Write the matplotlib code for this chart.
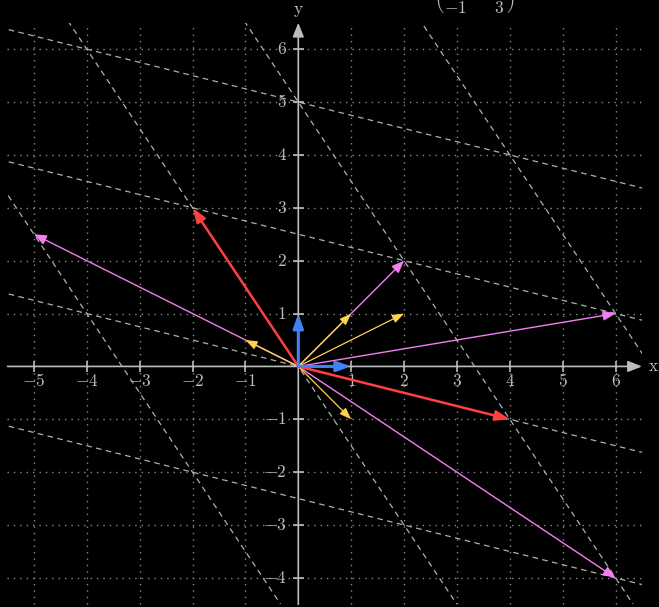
import numpy as np
import matplotlib.pyplot as plt
from matplotlib.patches import Rectangle

plt.rcParams['mathtext.fontset'] = 'cm'

# transformation matrix, its columns are the images of i and j
M = [[4, -2], [-1, 3]]
basis = [(1, 0), (0, 1)]
basis_images = [(4, -1), (-2, 3)]
vectors = [(1, 1), (2, 1), (1, -1), (-1, 0.5)]
vector_images = [(2, 2), (6, 1), (6, -4), (-5, 2.5)]
grid_k = [-1, 0, 1, 2]

x_ticks = [-5, -4, -3, -2, -1, 1, 2, 3, 4, 5, 6]
y_ticks = [-4, -3, -2, -1, 1, 2, 3, 4, 5, 6]
x_range = (-5.5, 6.5)
y_range = (-4.5, 6.5)

fig = plt.figure(figsize=(6.59, 6.07), dpi=100, facecolor='black')
ax = fig.add_axes([0, 0, 1, 1], facecolor='black')
ax.set_xlim(-5.64, 6.82)
ax.set_ylim(-4.55, 6.93)
ax.set_aspect('equal')
ax.axis('off')

# dotted background grid
gridkw = dict(color='#8a8a8a', lw=1.0, ls=(0, (1, 3.6)), zorder=1)
ax.vlines(x_ticks, *y_range, **gridkw)
ax.hlines(y_ticks, *x_range, **gridkw)

# transformed grid lines (dashed), clipped to the grid box
clip = Rectangle((x_range[0], y_range[0]), x_range[1] - x_range[0],
                 y_range[1] - y_range[0], transform=ax.transData)
ti = np.array(basis_images[0], float)
tj = np.array(basis_images[1], float)
t = np.array([-30.0, 30.0])
for k in grid_k:
    for base, d in ((k * tj, ti), (k * ti, tj)):
        pts = base[:, None] + d[:, None] * t
        ln, = ax.plot(pts[0], pts[1], color='#b0b0b0', lw=0.9,
                      ls=(0, (4.5, 3.5)), zorder=2)
        ln.set_clip_path(clip)

# axes with arrow heads
axis_col = '#bdbdbd'
axkw = dict(arrowstyle='-|>,head_length=0.85,head_width=0.34', color=axis_col,
            lw=1.2, shrinkA=0, shrinkB=0, mutation_scale=10)
ax.annotate('', xy=(x_range[1], 0), xytext=(x_range[0], 0), arrowprops=axkw, zorder=3)
ax.annotate('', xy=(0, y_range[1]), xytext=(0, y_range[0]), arrowprops=axkw, zorder=3)
ax.vlines(x_ticks, -0.1, 0.1, color=axis_col, lw=1.2, zorder=3)
ax.hlines(y_ticks, -0.1, 0.1, color=axis_col, lw=1.2, zorder=3)

for x in x_ticks:
    ax.text(x, -0.28, f'${x}$', color=axis_col, fontsize=12.5,
            ha='center', va='center')
for y in y_ticks:
    ax.text(-0.22, y, f'${y}$', color=axis_col, fontsize=12.5,
            ha='right', va='center')
ax.text(6.72, 0, r'$\mathrm{x}$', color=axis_col, fontsize=12.5, ha='center', va='center')
ax.text(0, 6.74, r'$\mathrm{y}$', color=axis_col, fontsize=12.5, ha='center', va='center')

# matrix, only the bottom row is inside the frame
fig.text(474 / 659, 1.0,
         r'$\genfrac{(}{)}{0}{0}{%d\quad\;\; %d}{%d\quad\;\;\; %d}$'
         % (M[0][0], M[0][1], M[1][0], M[1][1]),
         color=axis_col, fontsize=12.5, ha='center', va='center')


def arrow(v, color, lw, hl, hw, z):
    ax.annotate('', xy=v, xytext=(0, 0), zorder=z,
                arrowprops=dict(arrowstyle=f'-|>,head_length={hl},head_width={hw}',
                                color=color, lw=lw, shrinkA=0, shrinkB=0,
                                mutation_scale=10))


for v in vector_images:
    arrow(v, '#f27ef2', 1.0, 0.75, 0.3, 4)
for v in vectors:
    arrow(v, '#ffd24d', 0.9, 0.7, 0.26, 5)
for v in basis_images:
    arrow(v, '#ff4040', 1.8, 0.85, 0.3, 6)
for v in basis:
    arrow(v, '#3f84f5', 2.2, 0.85, 0.3, 7)

fig.savefig('out.png', dpi=100, facecolor='black')
